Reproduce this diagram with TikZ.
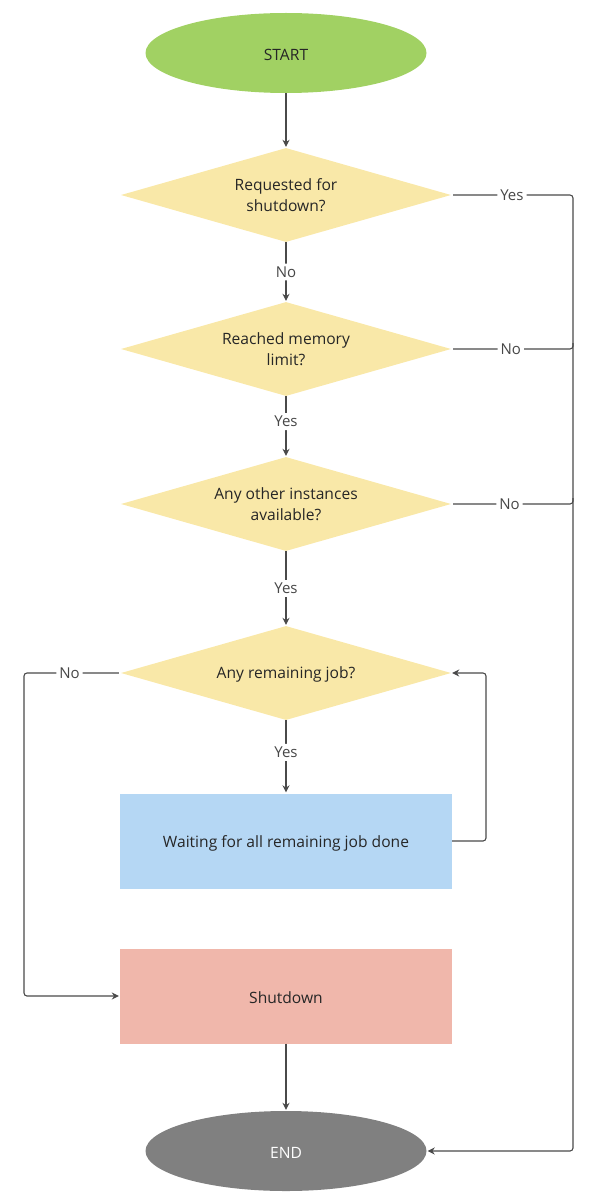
\documentclass[tikz,border=0pt]{standalone}
\usepackage{fontspec}
\setmainfont{Open Sans}
\usetikzlibrary{shapes.geometric,arrows.meta}
\definecolor{cgreen}{HTML}{A1D163}
\definecolor{cyellow}{HTML}{F9E8A8}
\definecolor{cblue}{HTML}{B5D7F4}
\definecolor{cred}{HTML}{F0B7AB}
\definecolor{cgray}{HTML}{808080}
\definecolor{cline}{HTML}{4A4A4A}
\definecolor{ctext}{HTML}{262626}
\newcommand{\lowertxt}[2]{\raisebox{-#1}[\height][\depth]{#2}}
\begin{document}
\begin{tikzpicture}[x=1pt,y=-1pt,
  every node/.style={font=\fontsize{15.6}{20.7}\selectfont, text=ctext},
  term/.style={ellipse, minimum width=281pt, minimum height=80pt, inner sep=0pt},
  decision/.style={diamond, fill=cyellow, minimum width=330pt, minimum height=94pt, inner sep=0pt, shape aspect=3.5, align=center},
  procbox/.style={rectangle, minimum width=332pt, minimum height=95pt, inner sep=0pt},
  conn/.style={draw=cline, line width=1.1pt, rounded corners=3pt, -{Stealth[length=7pt,width=7pt]}, shorten >=1pt},
  plain/.style={draw=cline, line width=1.1pt, rounded corners=3pt},
  lbl/.style={fill=white, inner sep=3pt, font=\fontsize{15}{17}\selectfont, text=ctext!85!white}
]
\useasboundingbox (0,0) rectangle (598,1204);

\node[term, fill=cgreen] (start) at (286,53) {\lowertxt{1.5pt}{START}};
\node[decision] (d1) at (286,195) {Requested for\\shutdown?};
\node[decision] (d2) at (286,349) {Reached memory\\limit?};
\node[decision] (d3) at (286,504) {Any other instances\\available?};
\node[decision] (d4) at (286,673) {\lowertxt{1pt}{Any remaining job?}};
\node[procbox, fill=cblue] (wait) at (286,841) {\lowertxt{2.5pt}{Waiting for all remaining job done}};
\node[procbox, fill=cred] (shut) at (286,996) {\lowertxt{2pt}{Shutdown}};
\node[term, fill=cgray] (end) at (286,1151) {\lowertxt{1.5pt}{\textcolor{white}{END}}};

\coordinate (r1) at (573,195);
\coordinate (r2) at (573,349);
\coordinate (r3) at (573,504);
\coordinate (l4) at (24,673);
\coordinate (rw) at (486,841);

\draw[conn] (start.south) -- (d1.north);
\draw[conn] (d1.south) -- node[lbl]{No} (d2.north);
\draw[conn] (d2.south) -- node[lbl, pos=0.42]{Yes} (d3.north);
\draw[conn] (d3.south) -- node[lbl]{Yes} (d4.north);
\draw[conn] (d4.south) -- node[lbl, pos=0.44]{Yes} (wait.north);
\draw[conn] (shut.south) -- (end.north);

\draw[conn] ([xshift=2pt]d1.east) -- node[lbl, pos=0.49]{Yes} (r1) |- (end.east);
\draw[plain] ([xshift=2pt]d2.east) -- node[lbl, pos=0.48]{No} (r2) -- ([yshift=6pt]r2);
\draw[plain] ([xshift=2pt]d3.east) -- node[lbl, pos=0.47]{No} (r3) -- ([yshift=6pt]r3);
\draw[conn] ([xshift=-2pt]d4.west) -- node[lbl, pos=0.52]{No} (l4) |- (shut.west);
\draw[conn] (wait.east) -- (rw) |- (d4.east);
\end{tikzpicture}
\end{document}
